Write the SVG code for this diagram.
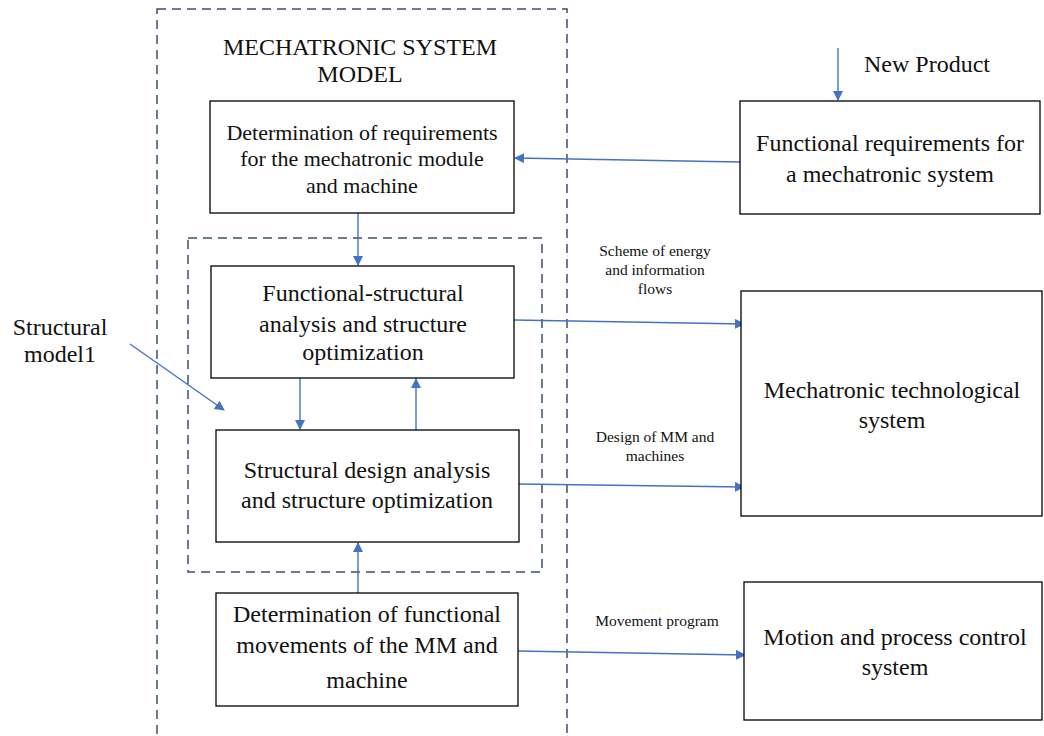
<svg xmlns="http://www.w3.org/2000/svg" width="1044" height="736" viewBox="0 0 1044 736" font-family="Liberation Serif, Times New Roman, serif">
<style>
.box{fill:#fff;stroke:#000;stroke-width:1.3}
.dash{fill:none;stroke:#3b4f6e;stroke-width:1.5;stroke-dasharray:9,6}
.t{font-size:24px;fill:#111;text-anchor:middle}
.m{font-size:22px}
.s{font-size:15.5px;fill:#111;text-anchor:middle}
.c{stroke:#4472C4;stroke-width:1.4;fill:none;marker-end:url(#ah)}
</style>
<defs>
<marker id="ah" viewBox="0 0 10 10" refX="9" refY="5" markerWidth="10" markerHeight="10" markerUnits="userSpaceOnUse" orient="auto">
<path d="M0,0 L10,5 L0,10 z" fill="#4472C4"/>
</marker>
</defs>
<rect width="1044" height="736" fill="#fff"/>
<g id="frames">
<rect class="dash" x="157" y="9" width="410" height="740"/>
<rect class="dash" x="188" y="238" width="354" height="334"/>
</g>
<g id="title">
<text class="t" x="360" y="55">MECHATRONIC SYSTEM</text>
<text class="t" x="360" y="82">MODEL</text>
</g>
<g id="connectors">
<line class="c" x1="838" y1="48" x2="838" y2="100"/>
<line class="c" x1="740" y1="162" x2="515" y2="158"/>
<line class="c" x1="358" y1="213" x2="358" y2="265"/>
<line class="c" x1="300" y1="378" x2="300" y2="429"/>
<line class="c" x1="416" y1="430" x2="416" y2="379"/>
<line class="c" x1="358" y1="593" x2="358" y2="543"/>
<line class="c" x1="130" y1="344" x2="224" y2="410"/>
<line class="c" x1="514" y1="320" x2="744" y2="324"/>
<line class="c" x1="519" y1="484" x2="744" y2="487"/>
<line class="c" x1="518" y1="651" x2="745" y2="655"/>
<text class="t" x="927" y="72">New Product</text>
<text class="s" x="655" y="256">Scheme of energy</text>
<text class="s" x="655" y="275">and information</text>
<text class="s" x="655" y="294">flows</text>
<text class="s" x="655" y="442">Design of MM and</text>
<text class="s" x="655" y="461">machines</text>
<text class="s" x="657" y="626">Movement program</text>
<text class="t" x="60" y="335">Structural</text>
<text class="t" x="60" y="362">model1</text>
</g>
<g id="n1">
<rect class="box" x="210" y="101" width="304" height="112"/>
<text class="t m" x="362" y="140">Determination of requirements</text>
<text class="t m" x="362" y="166">for the mechatronic module</text>
<text class="t m" x="362" y="193">and machine</text>
</g>
<g id="n2">
<rect class="box" x="740" y="101" width="300" height="113"/>
<text class="t" x="890" y="151">Functional requirements for</text>
<text class="t" x="890" y="182">a mechatronic system</text>
</g>
<g id="n3">
<rect class="box" x="211" y="266" width="303" height="112"/>
<text class="t" x="363" y="301">Functional-structural</text>
<text class="t" x="363" y="332">analysis and structure</text>
<text class="t" x="363" y="360">optimization</text>
</g>
<g id="n4">
<rect class="box" x="216" y="430" width="303" height="112"/>
<text class="t" x="367" y="478">Structural design analysis</text>
<text class="t" x="367" y="508">and structure optimization</text>
</g>
<g id="n5">
<rect class="box" x="216" y="593" width="302" height="113"/>
<text class="t" x="367" y="622">Determination of functional</text>
<text class="t" x="367" y="653">movements of the MM and</text>
<text class="t" x="367" y="688">machine</text>
</g>
<g id="n6">
<rect class="box" x="741" y="291" width="301" height="225"/>
<text class="t" x="892" y="398">Mechatronic technological</text>
<text class="t" x="892" y="428">system</text>
</g>
<g id="n7">
<rect class="box" x="744" y="582" width="298" height="138"/>
<text class="t" x="895" y="645">Motion and process control</text>
<text class="t" x="895" y="675">system</text>
</g>
</svg>
